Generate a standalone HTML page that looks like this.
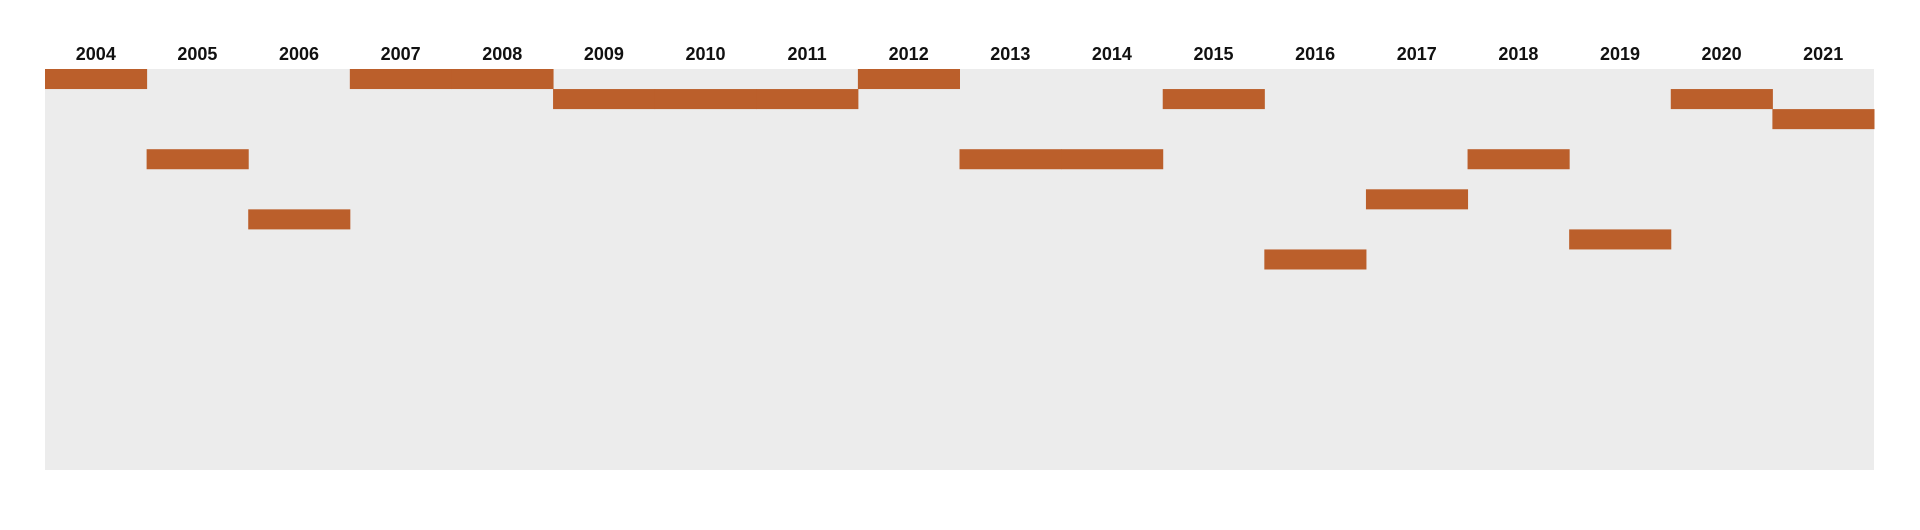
<!DOCTYPE html>
<html><head><meta charset="utf-8"><style>
html,body{margin:0;padding:0;background:#fff;width:1920px;height:530px;overflow:hidden}
svg text{font-family:"Liberation Sans",sans-serif;font-weight:bold;font-size:18px;fill:#111}
</style></head><body>
<svg id="chart" width="1920" height="530" xmlns="http://www.w3.org/2000/svg"></svg>
<script>
const years = ["2004","2005","2006","2007","2008","2009","2010","2011","2012","2013","2014","2015","2016","2017","2018","2019","2020","2021"];
const ranks = [1,5,8,1,1,2,2,2,1,5,5,2,10,7,5,9,2,3];
const rowCount = 20;
const svg = document.getElementById('chart');
const NS = 'http://www.w3.org/2000/svg';
const L = 45, R = 1874, T = 69, B = 470;
const colW = (R - L) / years.length;
const rowH = (B - T) / rowCount;
const xScale = i => L + i * colW;
const yScale = r => T + (r - 1) * rowH;
const bg = document.createElementNS(NS, 'rect');


bg.setAttribute('x', L); bg.setAttribute('y', T);
bg.setAttribute('width', R - L); bg.setAttribute('height', B - T);
bg.setAttribute('fill', '#ececec');
svg.appendChild(bg);
years.forEach((y, i) => {
  const t = document.createElementNS(NS, 'text');
  
  
  t.setAttribute('x', xScale(i) + colW / 2);
  t.setAttribute('y', 60);
  t.setAttribute('text-anchor', 'middle');
  t.textContent = y;
  svg.appendChild(t);
  const b = document.createElementNS(NS, 'rect');
  
  
  b.setAttribute('x', xScale(i));
  b.setAttribute('y', yScale(ranks[i]));
  b.setAttribute('width', colW + 0.5);
  b.setAttribute('height', rowH);
  b.setAttribute('fill', '#bb5f2b');
  svg.appendChild(b);
});
</script>
</body></html>
